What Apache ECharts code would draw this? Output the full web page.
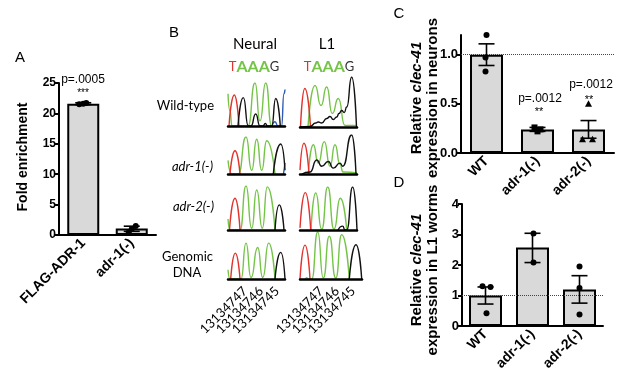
<!DOCTYPE html>
<html>
<head>
<meta charset="utf-8">
<script src="https://cdn.jsdelivr.net/npm/echarts@6/dist/echarts.min.js"></script>
<style>
  html, body { margin: 0; padding: 0; background: #fff; }
  #chart { width: 617px; height: 383px; }
</style>
</head>
<body>
<div id="chart"></div>
<script>
// ---- panel A: fold enrichment ----
var catsA = ['FLAG-ADR-1', 'adr-1(-)'];
var meanA = [21.6, 1.05];
var loA = [21.45, 0.6];
var hiA = [21.75, 1.45];
var ptsA = [[21.6, 21.5, 21.7], [1.5, 0.45, 1.0]];

// ---- panel C: clec-41 in neurons ----
var catsC = ['WT', 'adr-1(-)', 'adr-2(-)'];
var meanC = [1.0, 0.24, 0.24];
var loC = [0.89, 0.22, 0.15];
var hiC = [1.11, 0.26, 0.33];
var ptsC = [[1.2, 0.97, 0.83], [0.26, 0.24, 0.22], [0.5, 0.14, 0.14]];

// ---- panel D: clec-41 in L1 worms ----
var catsD = ['WT', 'adr-1(-)', 'adr-2(-)'];
var meanD = [1.0, 2.57, 1.2];
var loD = [0.72, 2.08, 0.75];
var hiD = [1.28, 3.04, 1.65];
var ptsD = [[1.3, 1.28, 0.42], [3.03, 2.08], [1.95, 1.25, 0.38]];

// ---- panel B: chromatogram traces, [position, relative height] ----
var neuralWT = {
  red:   [[1,0],[6.3,0.72],[11,0]],
  green: [[0,0.75],[2,0.35],[4,0],[20,0],[27,1.0],[32,0.12],[37.7,1.0],[43.7,0],[57,0]],
  black: [[10,0],[15.3,0.66],[20.3,0],[23,0],[27.7,0.28],[32,0],[35,0],[37.3,0.06],[39.5,0],[43.7,0],[47.7,0.64],[52.3,0]],
  blue:  [[44,0],[47,0.1],[50,0],[53.5,0],[56,0.75],[57,0.85]]
};
var l1WT = {
  red:   [[0.5,0],[4.8,0.77],[10.5,0]],
  green: [[8,0],[15,0.83],[21,0.43],[26.7,0.8],[32.3,0.27],[38.3,0.57],[45,0.03],[57,0.03]],
  black: [[0,0],[10,0.01],[15.7,0.08],[18.3,0.1],[21.7,0.08],[26.7,0.17],[30,0.21],[33.3,0.15],[36.7,0.2],[39,0.27],[41.7,0.33],[44.3,0.29],[46.7,0.4],[51.7,1.0],[56.5,0]]
};
var neuralA1 = {
  red:   [[2,0],[7,0.63],[12,0]],
  green: [[0,0.37],[3.7,0],[10.3,0],[18,1.0],[23.7,0.1],[28.7,0.94],[33.7,0.1],[38.7,0.9],[47,0]],
  black: [[45.3,0],[52.7,0.81],[57,0.1]],
  blue:  [[55.5,0],[57,0.3]]
};
var l1A1 = {
  red:   [[0,0.1],[4,0.79],[9,0]],
  green: [[8.3,0],[13.3,0.75],[18.3,0.28],[24.3,0.83],[30,0.2],[35,0.75],[40,0.25],[43,0.05],[57,0.03]],
  black: [[2,0],[10,0.05],[16.7,0.36],[21.7,0.2],[28.3,0.32],[33.3,0.15],[40,0.28],[42.7,0.2],[51.7,1.0],[56,0]]
};
var neuralA2 = {
  red:   [[1.5,0],[7,0.72],[12,0]],
  green: [[0,0.25],[2,0],[12,0],[18,1.0],[23.7,0.04],[28.7,0.91],[34.3,0.04],[39.3,0.98],[47,0]],
  black: [[47,0],[51.3,0.57],[56,0]]
};
var l1A2 = {
  red:   [[0,0.05],[5.3,0.87],[10.7,0]],
  green: [[11,0],[15.7,0.86],[21.7,0.02],[27.7,1.0],[34,0.02],[40.3,0.74],[46.7,0]],
  black: [[38,0],[42.7,0.09],[45,0],[46.7,0],[52.7,1.0],[57,0]]
};
var neuralG = {
  red:   [[2.7,0],[7.3,0.7],[12,0]],
  green: [[0,0.25],[2,0],[13,0],[18,0.97],[23,0.04],[29.7,0.85],[34.7,0.04],[40.7,0.97],[47,0]],
  black: [[47,0],[52.7,0.72],[57,0]]
};
var l1G = {
  red:   [[0,0],[5,0.72],[10,0]],
  green: [[5.5,0],[6.7,0.03],[8,0],[11.7,0],[17.7,1.0],[23.3,0.02],[29.3,0.91],[35.7,0.02],[41.7,0.94],[49.3,0]],
  black: [[49.3,0],[56,0.73],[61.7,0]]
};
var posLabels = ['13134747', '13134746', '13134745'];

var AX = 'Liberation Sans, Arial, sans-serif';
var BF = 'Lato, Open Sans, sans-serif';
var traceColor = { red: '#e2342f', green: '#74c447', black: '#111111', blue: '#2f5bb7' };

var grids = [], xAxes = [], yAxes = [], series = [], graphics = [];

function barPanel(box, cats, means, lo, hi, pts, yMax, yInt, opts) {
  var gi = grids.length;
  grids.push({ left: box[0], top: box[1], width: box[2], height: box[3], containLabel: false, outerBoundsMode: 'none' });
  xAxes.push({
    gridIndex: gi, type: 'category', data: cats,
    axisLine: { lineStyle: { color: '#000', width: 2 } },
    axisTick: { alignWithLabel: true, length: 5, lineStyle: { color: '#000', width: 2 } },
    axisLabel: { rotate: 45, interval: 0, color: '#000', fontWeight: 'bold', fontSize: opts.xFont, fontFamily: AX, margin: 6 }
  });
  var yAxis = {
    gridIndex: gi, type: 'value', min: 0, max: yMax, interval: yInt,
    axisLine: { show: true, lineStyle: { color: '#000', width: 2 } },
    axisTick: { show: true, length: 4, lineStyle: { color: '#000', width: 2 } },
    axisLabel: { color: '#000', fontWeight: 'bold', fontSize: opts.yFont, fontFamily: AX, margin: 3, formatter: opts.fmt },
    splitLine: { show: false }
  };
  if (opts.ticks) {
    yAxis.axisLabel.customValues = opts.ticks;
    yAxis.axisTick.customValues = opts.ticks;
  }
  yAxes.push(yAxis);

  var bar = {
    type: 'bar', xAxisIndex: gi, yAxisIndex: gi, data: means, barWidth: opts.barW,
    itemStyle: { color: '#d9d9d9', borderColor: '#000', borderWidth: 2 }, silent: true, z: 2
  };
  if (opts.refLine) {
    bar.markLine = {
      silent: true, symbol: 'none', label: { show: false },
      lineStyle: { type: 'dotted', color: '#444', width: 1 },
      data: [{ yAxis: 1 }]
    };
  }
  series.push(bar);

  var errData = cats.map(function (c, i) { return [i, lo[i], hi[i]]; });
  series.push({
    type: 'custom', xAxisIndex: gi, yAxisIndex: gi, data: errData, z: 4, silent: true,
    encode: { x: 0, y: [1, 2] },
    renderItem: function (params, api) {
      var a = api.coord([api.value(0), api.value(1)]);
      var b = api.coord([api.value(0), api.value(2)]);
      var w = 8, st = { stroke: '#000', lineWidth: 1.6 };
      return { type: 'group', children: [
        { type: 'line', shape: { x1: a[0], y1: a[1], x2: b[0], y2: b[1] }, style: st },
        { type: 'line', shape: { x1: a[0] - w, y1: b[1], x2: a[0] + w, y2: b[1] }, style: st },
        { type: 'line', shape: { x1: a[0] - w, y1: a[1], x2: a[0] + w, y2: a[1] }, style: st }
      ] };
    }
  });

  var ptData = [];
  pts.forEach(function (grp, i) {
    grp.forEach(function (v, j) {
      var off = (opts.jitter[i] && opts.jitter[i][j]) || 0;
      ptData.push([i, v, off, opts.markers[i]]);
    });
  });
  series.push({
    type: 'custom', xAxisIndex: gi, yAxisIndex: gi, data: ptData, z: 5, silent: true,
    encode: { x: 0, y: 1 },
    renderItem: function (params, api) {
      var p = api.coord([api.value(0), api.value(1)]);
      var cx = p[0] + api.value(2), cy = p[1], m = api.value(3);
      if (m === 1) return { type: 'rect', shape: { x: cx - 3, y: cy - 3, width: 6, height: 6 }, style: { fill: '#000' } };
      if (m === 2) return { type: 'polygon', shape: { points: [[cx, cy - 3.5], [cx - 3.5, cy + 3], [cx + 3.5, cy + 3]] }, style: { fill: '#000' } };
      return { type: 'circle', shape: { cx: cx, cy: cy, r: 3 }, style: { fill: '#000' } };
    }
  });
}

function chromPanel(box, xMax, traces) {
  var gi = grids.length;
  grids.push({ left: box[0], top: box[1], width: box[2], height: box[3], containLabel: false, outerBoundsMode: 'none' });
  xAxes.push({
    gridIndex: gi, type: 'value', min: 0, max: xMax, z: 6,
    axisLine: { show: true, lineStyle: { color: '#000', width: 2.5 } },
    axisTick: { show: false }, axisLabel: { show: false }, splitLine: { show: false }
  });
  yAxes.push({ gridIndex: gi, type: 'value', min: 0, max: 1, show: false, splitLine: { show: false } });
  ['green', 'red', 'blue', 'black'].forEach(function (k) {
    if (!traces[k]) return;
    series.push({
      type: 'line', xAxisIndex: gi, yAxisIndex: gi, data: traces[k], smooth: 0.6,
      smoothMonotone: 'x', showSymbol: false, silent: true, clip: true,
      lineStyle: { color: traceColor[k], width: 1.4 }
    });
  });
}

function txt(x, y, text, o) {
  o = o || {};
  graphics.push({
    type: 'text', x: x, y: y, rotation: o.rot || 0, silent: true,
    style: {
      text: text, fill: o.color || '#000', font: o.font || ('14px ' + AX),
      align: o.align || 'center', verticalAlign: o.va || 'middle',
      rich: o.rich, lineHeight: o.lh
    }
  });
}

// bar panels
barPanel([59, 83, 97, 152], catsA, meanA, loA, hiA, ptsA, 25, 5, {
  xFont: 14, yFont: 12, barW: 32, markers: [0, 0], jitter: [[0, -4, 3], [4, -3, 0]]
});
barPanel([461, 35, 153, 118], catsC, meanC, loC, hiC, ptsC, 1.2, 0.5, {
  xFont: 14, yFont: 13, barW: 33, markers: [0, 1, 2], jitter: [[0, -1, -1], [-3, 3, 0], [0, -6, 4]],
  refLine: true, ticks: [0, 0.5, 1], fmt: function (v) { return v.toFixed(1); }
});
barPanel([462, 204, 141, 122], catsD, meanD, loD, hiD, ptsD, 4, 1, {
  xFont: 14, yFont: 13, barW: 33, markers: [0, 0, 0], jitter: [[-3, 5, 1], [1, 1], [0, 0, 0]],
  refLine: true
});

// chromatograms
chromPanel([228, 83, 57, 43], 57, neuralWT);
chromPanel([300, 77, 57, 50], 57, l1WT);
chromPanel([228, 137, 57, 37], 57, neuralA1);
chromPanel([300, 135, 57, 39], 57, l1A1);
chromPanel([228, 186, 57, 44], 57, neuralA2);
chromPanel([300, 187, 57, 43], 57, l1A2);
chromPanel([228, 242, 57, 37], 57, neuralG);
chromPanel([300, 232, 62, 47], 62, l1G);

// panel letters
txt(20, 58, 'A', { font: '15px ' + AX });
txt(174, 33, 'B', { font: '15px ' + AX });
txt(399, 14, 'C', { font: '15px ' + AX });
txt(399, 183, 'D', { font: '15px ' + AX });

// panel A annotations
txt(23, 157, 'Fold enrichment', { rot: Math.PI / 2, font: 'bold 14px ' + AX });
txt(83, 80, 'p=.0005', { font: '12px ' + AX });
txt(83, 93, '***', { font: '10px ' + AX });

// panel C annotations
var richY = {
  b: { fontFamily: AX, fontWeight: 'bold', fontSize: 15, lineHeight: 16 },
  i: { fontFamily: AX, fontWeight: 'bold', fontStyle: 'italic', fontSize: 15, lineHeight: 16 }
};
txt(425, 98, '{b|Relative }{i|clec-41}\n{b|expression in neurons}', { rot: Math.PI / 2, rich: richY });
txt(540, 99, 'p=.0012', { font: '12px ' + AX });
txt(539, 112, '**', { font: '11px ' + AX });
txt(591, 85, 'p=.0012', { font: '12px ' + AX });
txt(589, 100, '**', { font: '11px ' + AX });

// panel D annotations
txt(425, 270, '{b|Relative }{i|clec-41}\n{b|expression in L1 worms}', { rot: Math.PI / 2, rich: richY });

// panel B annotations
txt(255, 44, 'Neural', { font: '15px ' + BF });
txt(327, 44, 'L1', { font: '15px ' + BF });
var richSeq = {
  t: { fontFamily: BF, fontSize: 13, fill: '#e2342f' },
  a: { fontFamily: BF, fontSize: 16, fontWeight: 'bold', fill: '#74c447' },
  g: { fontFamily: BF, fontSize: 13, fill: '#333' }
};
txt(254, 67, '{t|T}{a|AAA}{g|G}', { rich: richSeq });
txt(329, 67, '{t|T}{a|AAA}{g|G}', { rich: richSeq });
txt(214, 106, 'Wild-type', { align: 'right', font: '13px ' + BF });
txt(213, 167, 'adr-1(-)', { align: 'right', font: 'italic 13px ' + BF });
txt(214, 207, 'adr-2(-)', { align: 'right', font: 'italic 13px ' + BF });
txt(213, 257, 'Genomic', { align: 'right', font: '13px ' + BF });
txt(187, 273, 'DNA', { font: '13px ' + BF });
[[245, 261, 277], [321, 337, 353]].forEach(function (xs) {
  xs.forEach(function (x, i) {
    txt(x, 289, posLabels[i], { rot: Math.PI / 4, align: 'right', font: '13px ' + BF });
  });
});

var myChart = echarts.init(document.getElementById('chart'), null, { renderer: 'canvas' });
myChart.setOption({
  animation: false,
  grid: grids,
  xAxis: xAxes,
  yAxis: yAxes,
  series: series,
  graphic: graphics
});
</script>
</body>
</html>
